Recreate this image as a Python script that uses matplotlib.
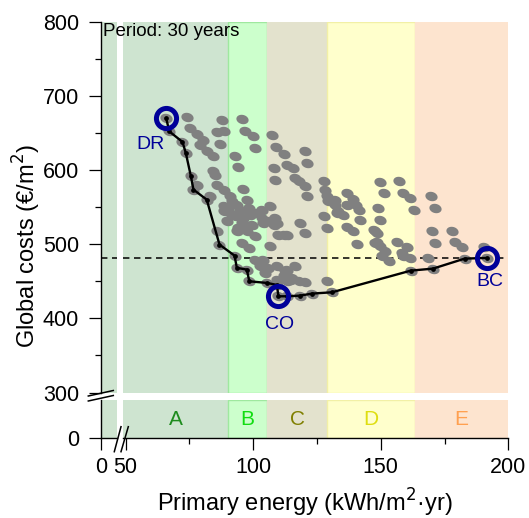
import numpy as np
import matplotlib
matplotlib.use("Agg")
import matplotlib.pyplot as plt
from matplotlib.path import Path
from matplotlib.lines import Line2D
from matplotlib.ticker import MultipleLocator, FixedLocator

plt.rcParams['font.family'] = ['Liberation Sans', 'DejaVu Sans']

# ---------------- data ----------------
class_names = ["A", "B", "C", "D", "E"]
class_edges = [0, 90, 105.6, 129, 163.5, 200]
class_face = ["#cee4d0", "#ccffcc", "#e3e2cd", "#ffffcc", "#fde4cf"]
class_edge = ["#cee4d0", "#9fe89f", "#e3e2cd", "#f2f0a6", "#fde4cf"]
class_text = ["#1e8c1e", "#11dd11", "#7f7f00", "#dede10", "#ffa050"]

cloud_x = [74.0, 75.3, 77.9, 80.5, 79.2, 81.8, 84.4, 87.7, 85.8, 88.6, 87.1, 95.6, 96.9, 100.1, 100.8,
           92.9, 94.1, 84.4, 85.1, 77.9, 85.8, 88.4, 91.0, 91.6, 96.2, 97.5, 83.1, 107.4, 109.0, 111.9, 113.2,
           115.8, 108.2, 108.6, 116.5, 117.8, 120.4, 121.1, 120.4, 121.1, 127.6, 128.2, 128.9, 132.2, 136.7,
           139.3, 149.8, 157.3, 151.1, 158.9, 161.6, 169.8, 148.9, 162.9, 171.4, 132.2, 140.4, 141.6, 132.9,
           135.3, 142.0, 149.8, 136.7, 139.3, 147.2, 148.5, 170.1, 177.9, 171.4, 179.2, 140.7, 148.5, 149.8,
           156.4, 160.3, 181.8, 151.8, 158.3, 158.9, 150.5, 153.1, 161.6, 168.7, 190.3, 88.4, 93.6, 94.9,
           98.2, 106.7, 103.4, 88.4, 91.0, 92.9, 96.2, 98.8, 101.4, 89.7, 103.4, 104.0, 108.6, 108.0, 127.6,
           95.6, 96.9, 99.5, 94.2, 93.6, 128.9, 100.8, 109.9, 111.9, 120.4, 95.6, 106.7, 98.2, 100.8, 104.0,
           102.7, 106.0, 109.3, 113.2, 116.5, 104.7, 111.9, 114.5, 117.8, 128.9, 109.3, 85.8, 90.3, 106.7,
           109.3, 97.5, 129.4, 136.7, 133.3, 118.4, 147.8, 147.8, 113.2, 112.5, 115.2, 120.4, 113.2]
cloud_y = [671.6, 656.7, 649.1, 640.9, 633.3, 625.2, 618.5, 667.9, 651.8, 652.2, 635.6, 669.3, 653.1, 645.4, 630.2,
           619.4, 604.6, 598.3, 593.1, 580.3, 580.3, 573.6, 564.6, 557.8, 574.5, 560.1, 564.6, 647.7, 631.5, 622.1, 607.3,
           602.8, 602.8, 587.1, 589.3, 584.8, 625.2, 609.6, 578.0, 564.6, 584.8, 573.6, 564.6, 560.1, 569.1,
           561.5, 584.0, 584.8, 568.9, 569.1, 562.4, 564.6, 548.9, 546.6, 548.9, 553.4, 553.4, 546.6, 542.2,
           539.9, 533.2, 533.2, 523.3, 517.4, 519.6, 515.2, 517.4, 518.3, 501.7, 502.6, 500.8, 503.1, 497.2,
           503.1, 495.8, 495.8, 491.4, 488.3, 483.7, 484.6, 477.9, 481.5, 481.5, 496.8, 551.1, 553.4, 546.6,
           548.9, 551.1, 546.6, 544.4, 542.2, 537.6, 535.4, 539.9, 542.2, 530.9, 535.4, 528.7, 535.4, 526.4, 538.5,
           528.7, 524.1, 526.4, 522.0, 517.4, 522.0, 510.7, 512.9, 512.9, 515.2, 501.7, 497.2, 495.0, 479.2, 479.2,
           470.2, 468.1, 470.2, 465.8, 470.2, 461.3, 456.7, 452.3, 450.0, 450.0, 452.3, 517.4, 548.9, 530.9,
           528.7, 517.4, 557.8, 553.4, 544.4, 528.7, 517.4, 501.7, 512.9, 463.5, 454.5, 448.7, 450.0]

front_x = [65.9, 67.1, 72.3, 73.6, 75.6, 76.6, 81.8, 86.8, 92.7, 93.6, 97.5, 98.5, 105.4, 109.3,
           109.9, 113.2, 118.4, 123.0, 130.9, 161.8, 170.5, 182.9, 191.6]
front_y = [670.2, 652.2, 637.9, 623.0, 591.5, 573.6, 560.1, 499.5, 484.6, 468.1, 465.8, 450.0, 447.8, 445.1,
           429.8, 429.8, 430.7, 433.4, 435.2, 464.4, 467.1, 480.6, 481.5]

key_names = ["DR", "CO", "BC"]
key_x = [65.9, 109.9, 191.6]
key_y = [670.2, 429.8, 481.5]
key_label_x = [59.6, 110.2, 192.7]
key_label_y = [635.0, 391.6, 450.0]

period_text = "Period: 30 years"
xlabel = "Primary energy (kWh/m$^2$\u00b7yr)"
ylabel = "Global costs (\u20ac/m$^2$)"

# ---------------- layout ----------------
W, H = 529, 518
fig = plt.figure(figsize=(W / 100, H / 100), dpi=100)

def box(x0, x1, ytop, ybot):
    return [x0 / W, 1 - ybot / H, (x1 - x0) / W, (ybot - ytop) / H]

ax_ul = fig.add_axes(box(100.7, 117.3, 21.7, 393.3))
ax_um = fig.add_axes(box(123.3, 508.3, 21.7, 393.3))
ax_ll = fig.add_axes(box(100.7, 117.3, 400.0, 438.3))
ax_lm = fig.add_axes(box(123.3, 508.3, 400.0, 438.3))

left_xlim = (0, 6.5)
main_xlim = (49.1, 200)
upper_ylim = (299, 800)
lower_ylim = (0, 51.6)

for ax in (ax_ul, ax_ll):
    ax.set_xlim(*left_xlim)
for ax in (ax_um, ax_lm):
    ax.set_xlim(*main_xlim)
for ax in (ax_ul, ax_um):
    ax.set_ylim(*upper_ylim)
for ax in (ax_ll, ax_lm):
    ax.set_ylim(*lower_ylim)

# background bands
for ax in (ax_ul, ax_ll):
    ax.axvspan(class_edges[0], class_edges[1], facecolor=class_face[0], edgecolor='none', zorder=0)
for ax in (ax_um, ax_lm):
    for i in range(len(class_names)):
        ax.axvspan(class_edges[i], class_edges[i + 1], facecolor=class_face[i],
                   edgecolor=class_edge[i], linewidth=1.0, zorder=0)

for i, name in enumerate(class_names):
    lo = max(class_edges[i], main_xlim[0])
    ax_lm.text((lo + class_edges[i + 1]) / 2, 25, name, color=class_text[i],
               fontsize=15, ha='center', va='center')

# dashed reference line at BC cost
for ax in (ax_ul, ax_um):
    ax.axhline(key_y[2], color='black', linestyle=(0, (4.2, 3)), linewidth=1.1, zorder=2)

# ellipse marker
t = np.linspace(0, 2 * np.pi, 40)
ang = np.deg2rad(-15)
ex, ey = 1.0 * np.cos(t), 0.74 * np.sin(t)
verts = np.column_stack([ex * np.cos(ang) - ey * np.sin(ang), ex * np.sin(ang) + ey * np.cos(ang)])
ell = Path(verts, closed=True)

ax_um.plot(cloud_x, cloud_y, linestyle='none', marker=ell, markersize=8.8,
           color='#808080', markeredgewidth=0, zorder=3)
ax_um.plot(front_x, front_y, linestyle='none', marker=ell, markersize=8.8,
           color='#808080', markeredgewidth=0, zorder=3)
ax_um.plot(front_x, front_y, color='black', linewidth=1.7, marker='o', markersize=2.4, zorder=4)

ax_um.plot(key_x, key_y, linestyle='none', marker='o', markersize=14.5, markerfacecolor='none',
           markeredgecolor='#000099', markeredgewidth=3.6, zorder=5)
for n, lx, ly in zip(key_names, key_label_x, key_label_y):
    ax_um.text(lx, ly, n, color='#000099', fontsize=14, ha='center', va='center', zorder=6)

# spines & ticks
for ax in (ax_ul, ax_um, ax_ll, ax_lm):
    for s in ax.spines.values():
        s.set_visible(False)
    ax.set_facecolor('none')
    ax.tick_params(which='both', direction='out', width=0.9, labelsize=15.5)
    ax.tick_params(which='major', length=8.6)
    ax.tick_params(which='minor', length=4)

ax_ul.spines['left'].set_visible(True)
ax_ll.spines['left'].set_visible(True)
ax_ll.spines['bottom'].set_visible(True)
ax_lm.spines['bottom'].set_visible(True)
for ax in (ax_ul, ax_ll, ax_lm):
    for s in ax.spines.values():
        s.set_linewidth(1.0)

ax_ul.set_yticks([300, 400, 500, 600, 700, 800])
ax_ul.yaxis.set_minor_locator(MultipleLocator(50))
ax_ul.set_xticks([])
ax_ul.tick_params(axis='y', pad=7)

ax_um.set_xticks([]); ax_um.set_yticks([])

ax_ll.set_yticks([0])
ax_ll.set_xticks([0])
ax_ll.tick_params(axis='y', pad=7)
ax_ll.tick_params(axis='x', pad=5)

ax_lm.set_yticks([])
ax_lm.set_xticks([50, 100, 150, 200])
ax_lm.xaxis.set_minor_locator(FixedLocator([75, 125, 175]))
ax_lm.tick_params(axis='x', pad=5)

# break marks
def fline(x0, y0, x1, y1):
    fig.add_artist(Line2D([x0 / W, x1 / W], [1 - y0 / H, 1 - y1 / H], color='black',
                          linewidth=1.1, transform=fig.transFigure, zorder=10))

fline(88.3, 396.0, 113.3, 390.5)
fline(88.3, 401.0, 113.3, 395.5)
fline(114.3, 451.7, 121.0, 426.7)
fline(121.0, 451.7, 128.3, 426.7)

# texts
fig.text(103 / W, 1 - 23 / H, period_text, fontsize=13.5, ha='left', va='top')
fig.text(305 / W, 1 - 511.7 / H, xlabel, fontsize=17, ha='center', va='baseline')
fig.text(27 / W, 1 - 246 / H, ylabel, fontsize=17, ha='center', va='center', rotation=90)

fig.savefig("out.png", dpi=100)
